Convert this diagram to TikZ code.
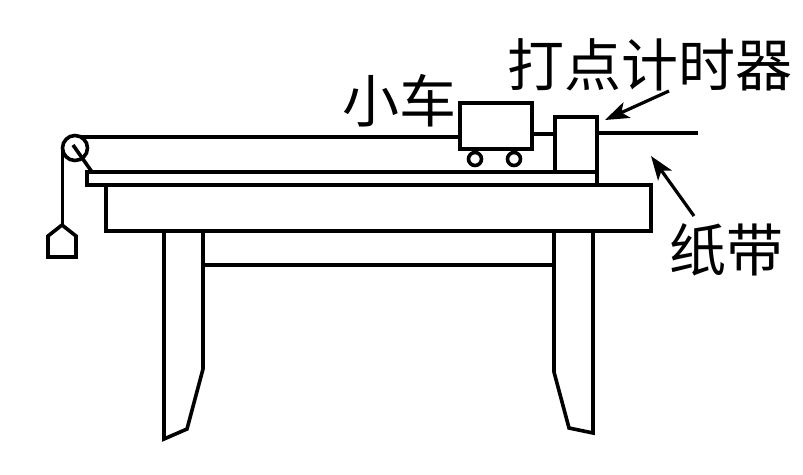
\documentclass[tikz,border=0pt]{standalone}
\usepackage{fontspec}
\newfontfamily\cjk{Noto Sans CJK SC}[BoldFont={Noto Sans CJK SC}]
\usetikzlibrary{calc,positioning,arrows.meta}
\tikzset{
  >={Stealth[length=24pt,width=17pt,inset=6pt]},
  part/.style={draw=black, line width=3.6pt, inner sep=0pt, outer sep=0pt},
  wheel/.style={part, circle, minimum size=13pt},
  label/.style={inner sep=0pt, font=\cjk\fontsize{57}{57}\selectfont},
  myline/.style={draw, line width=3.6pt, line join=miter},
  myarrow/.style={draw, line width=3.2pt, ->},
}
\begin{document}
\begin{tikzpicture}[x=1pt,y=-1pt]
  \useasboundingbox (0,0) rectangle (803,474);

  % table
  \node[part, minimum width=545pt, minimum height=46pt] (tabletop) at (378.5,208) {};
  \node[part, minimum width=510pt, minimum height=13pt] (track) at (342,178.5) {};
  \node[part, minimum width=42pt, minimum height=55pt] (timer) at (576,144.5) {};
  \node[part, minimum width=72pt, minimum height=46pt] (cart) at (496,126) {};
  \node[wheel] (wheelA) at (475,159) {};
  \node[wheel] (wheelB) at (514,159) {};
  \node[part, circle, minimum size=25pt] (pulley) at (75,148) {};

  \coordinate (legA1) at (164,231);
  \coordinate (legA2) at (203,231);
  \coordinate (legB1) at (554,231);
  \coordinate (legB2) at (593,231);
  \coordinate (stringEnd) at (80,137);
  \coordinate (axleEnd) at (92,172);
  \coordinate (axleStart) at (73,145);
  \coordinate (hook) at (62,225);
  \coordinate (tapeEnd) at (698,133);
  \coordinate (timerGap) at (532,134);
  \coordinate (tipTimer) at (605,120);
  \coordinate (tailTimer) at (669,91);
  \coordinate (tipTape) at (651,156);
  \coordinate (tailTape) at (694,216);

  % legs
  \path[myline] (legA1) -- (164,439) -- (187,429) -- (203,369) -- (legA2);
  \path[myline] (legB1) -- (554,372) -- (569,428) -- (593,433) -- (legB2);
  \path[myline] (203,265) -- (554,265);

  % strings
  \path[myline] (stringEnd) -- (stringEnd -| cart.west);
  \path[myline] (axleStart) -- (axleEnd);
  \path[myline] (pulley.west) -- (pulley.west |- hook);
  \path[myline] (hook) -- (76,236) -- (76,257) -- (48,257) -- (48,236) -- cycle;
  \path[myline] (timerGap) -- (timerGap -| timer.west);
  \path[myline] (timer.east |- tapeEnd) -- (tapeEnd);

  % labels
  \node[label] (cartLabel) at (399,101) {小车};
  \node[label] (timerLabel) at (650,65) {打点计时器};
  \node[label] (tapeLabel) at (726,250) {纸带};

  \path[myarrow] (tailTimer) -- (tipTimer);
  \path[myarrow] (tailTape) -- (tipTape);
\end{tikzpicture}
\end{document}
